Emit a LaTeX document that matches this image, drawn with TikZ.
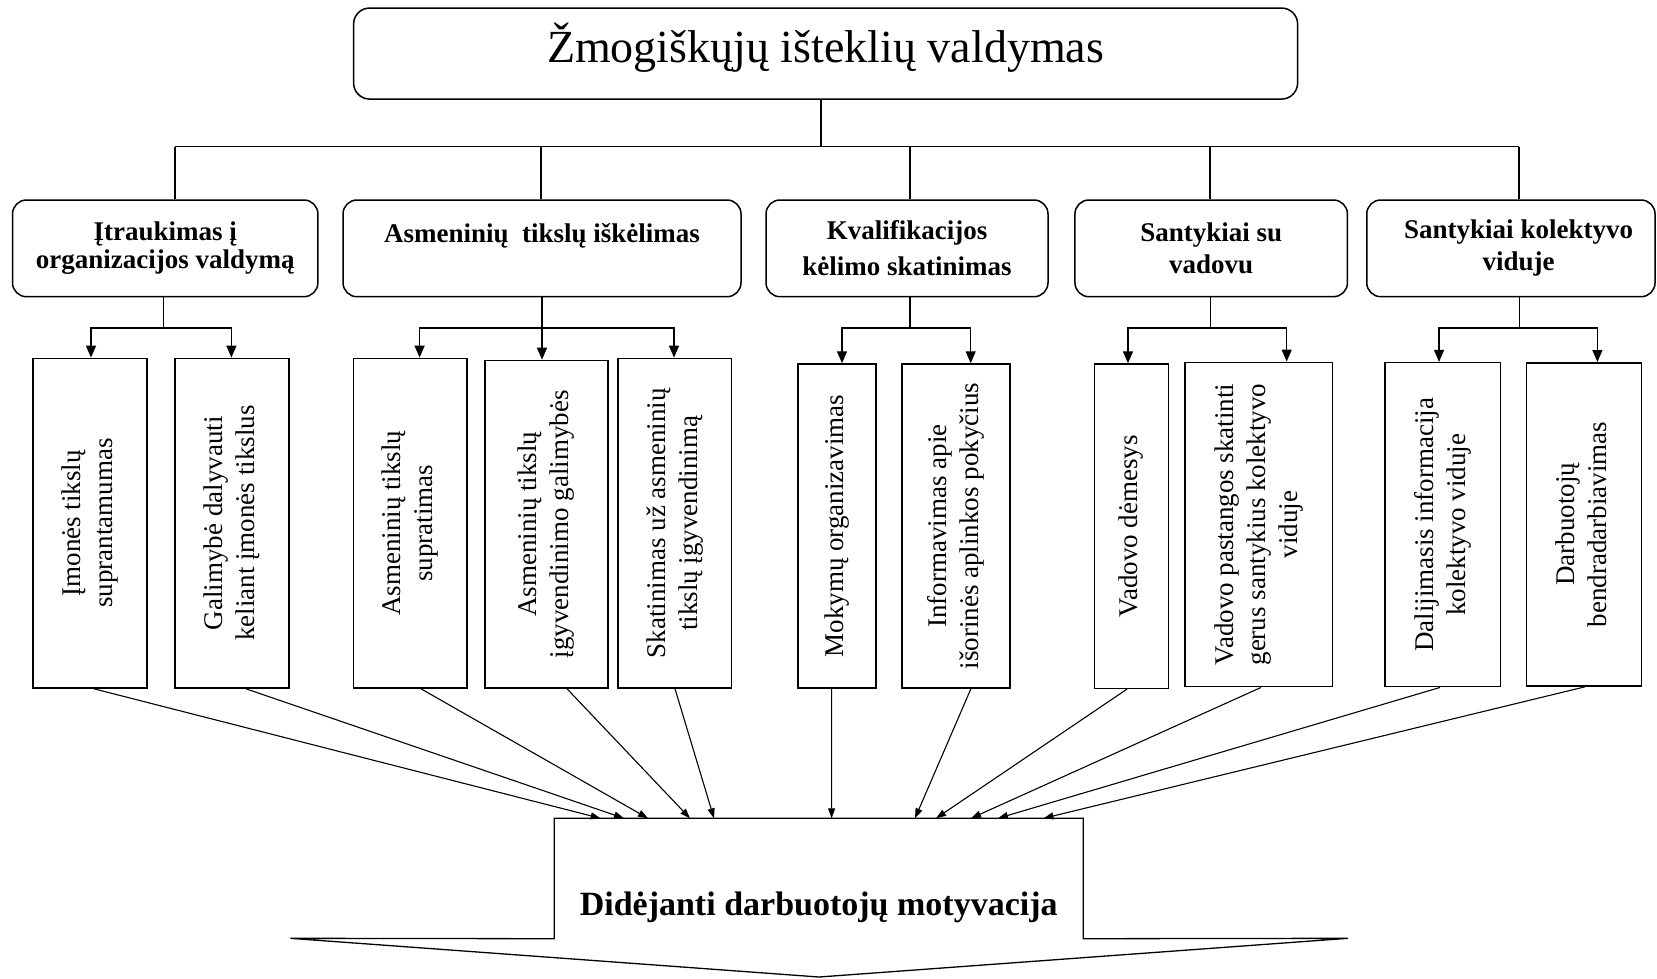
\documentclass[tikz,border=0pt]{standalone}
\usepackage{fontspec}
\setmainfont{Liberation Serif}
\usepackage{graphicx}
\usetikzlibrary{arrows.meta}
% rotated, centred multi-line text for the tall boxes
\newcommand{\sidetext}[1]{\rotatebox{90}{\begin{tabular}{@{}c@{}}#1\end{tabular}}}

\begin{document}
\begin{tikzpicture}[x=1pt,y=-1pt,
  boxline/.style={line width=1.5pt},
  topbox/.style={draw, boxline, rounded corners=16pt, inner sep=0pt},
  headbox/.style={draw, boxline, rounded corners=14pt, inner sep=0pt,
    minimum height=96.7pt, align=center, font=\fontsize{27}{31}\selectfont\bfseries},
  headtext/.style={inner sep=0pt, align=center, font=\fontsize{27}{31}\selectfont\bfseries},
  leafbox/.style={draw, boxline, inner sep=0pt, font=\fontsize{27}{32}\selectfont},
  link/.style={line width=1.3pt},
  downarrow/.style={link, -{Triangle[length=12pt,width=10pt]}},
  intoarrow/.style={line width=1.1pt, -{Triangle[length=10pt,width=7pt]}},
]
\useasboundingbox (0,0) rectangle (1657,978);

% ---- main heading ----
\node[topbox, minimum width=944pt, text height=54pt, text depth=37pt,
      font=\fontsize{46}{50}\selectfont, anchor=north] (title) at (825.6,7.3)
      {Žmogiškųjų išteklių valdymas};

% ---- second level ----
\node[headbox, minimum width=305.4pt, font=\fontsize{27}{28}\selectfont\bfseries] (h1) at (165.2,248.35)
      {Įtraukimas į\\organizacijos valdymą};
\node[headbox, minimum width=398pt] (h2) at (542,248.35)
      {Asmeninių\ \ tikslų iškėlimas\\\mbox{}};
\node[headbox, minimum width=282pt, font=\fontsize{27}{36}\selectfont\bfseries] (h3) at (907,248.35)
      {Kvalifikacijos\\kėlimo skatinimas};
\node[headbox, minimum width=272.5pt, font=\fontsize{27}{31.7}\selectfont\bfseries] (h4) at (1211.2,248.35)
      {Santykiai su\\vadovu};
\node[headbox, minimum width=288.3pt] (h5) at (1510.9,248.35) {};
\node[headtext, font=\fontsize{27}{31.7}\selectfont\bfseries] (h5t) at (1518.6,248.35)
      {Santykiai kolektyvo\\viduje};

% ---- bus from the heading ----
\coordinate (bus) at (821,146.7);
\coordinate (b1) at (175,146.7);
\coordinate (b2) at (541,146.7);
\coordinate (b3) at (910,146.7);
\coordinate (b4) at (1210,146.7);
\coordinate (b5) at (1519,146.7);
\draw[link] (title.south -| bus) -- (bus);
\draw[link] (b1) -- (b5);
\draw[link] (b1) -- (b1 |- h1.north);
\draw[link] (b2) -- (b2 |- h2.north);
\draw[link] (b3) -- (b3 |- h3.north);
\draw[link] (b4) -- (b4 |- h4.north);
\draw[link] (b5) -- (b5 |- h5.north);

% ---- third level ----
\node[leafbox, minimum width=114pt, minimum height=329.7pt] (c1) at (90,523.2)
      {\sidetext{Įmonės tikslų\\suprantamumas}};
\node[leafbox, minimum width=114pt, minimum height=329.7pt] (c2) at (232,523.2)
      {\sidetext{Galimybė dalyvauti\\keliant įmonės tikslus}};
\node[leafbox, minimum width=113.4pt, minimum height=329.7pt] (c3) at (410.3,523.2)
      {\sidetext{Asmeninių tikslų\\supratimas}};
\node[leafbox, minimum width=122.7pt, minimum height=327.6pt] (c4) at (546.4,524.2)
      {\sidetext{Asmeninių tikslų\\įgyvendinimo galimybės}};
\node[leafbox, minimum width=113.5pt, minimum height=329.7pt] (c5) at (674.6,523.2)
      {\sidetext{Skatinimas už asmeninių\\tikslų įgyvendinimą}};
\node[leafbox, minimum width=78pt, minimum height=324pt] (c6) at (837,526)
      {\sidetext{Mokymų organizavimas}};
\node[leafbox, minimum width=108.2pt, minimum height=324pt] (c7) at (955.9,526)
      {\sidetext{Informavimas apie\\išorinės aplinkos pokyčius}};
\node[leafbox, minimum width=74.2pt, minimum height=324.3pt] (c8) at (1131.4,526.2)
      {\sidetext{Vadovo dėmesys}};
\node[leafbox, minimum width=147.5pt, minimum height=324.4pt] (c9) at (1258.6,524.5)
      {\sidetext{Vadovo pastangos skatinti\\gerus santykius kolektyvo\\viduje}};
\node[leafbox, minimum width=115.7pt, minimum height=324pt] (c10) at (1442.7,524.7)
      {\sidetext{Dalijimasis informacija\\kolektyvo viduje}};
\node[leafbox, minimum width=114.7pt, minimum height=323.3pt] (c11) at (1583.9,524.4)
      {\sidetext{Darbuotojų\\bendradarbiavimas}};

% ---- branches from each group heading ----
\coordinate (g1) at (163.6,328);
\coordinate (g2) at (542,328);
\coordinate (g3) at (910,328);
\coordinate (g4) at (1210.4,328);
\coordinate (g5) at (1519.3,328);
\draw[link] (h1.south -| g1) -- (g1);
\draw[link] (h2.south -| g2) -- (g2);
\draw[link] (h3.south -| g3) -- (g3);
\draw[link] (h4.south -| g4) -- (g4);
\draw[link] (h5.south -| g5) -- (g5);

\draw[downarrow] (g1) -| ([xshift=1pt]c1.north);
\draw[downarrow] (g1) -| ([xshift=-0.6pt]c2.north);
\draw[downarrow] (g2) -| ([xshift=9.3pt]c3.north);
\draw[downarrow] (g2) -| ([xshift=-4.4pt]c4.north);
\draw[downarrow] (g2) -| ([xshift=-0.6pt]c5.north);
\draw[downarrow] (g3) -| ([xshift=5pt]c6.north);
\draw[downarrow] (g3) -| ([xshift=14.8pt]c7.north);
\draw[downarrow] (g4) -| ([xshift=-3.4pt]c8.north);
\draw[downarrow] (g4) -| ([xshift=28.1pt]c9.north);
\draw[downarrow] (g5) -| ([xshift=-3.7pt]c10.north);
\draw[downarrow] (g5) -| ([xshift=13.5pt]c11.north);

% ---- result block arrow ----
\node[inner sep=0pt, minimum width=528.6pt, text height=96.7pt, text depth=23.3pt,
      font=\fontsize{34}{40}\selectfont\bfseries, anchor=north] (goal) at (818.7,818.3)
      {Didėjanti darbuotojų motyvacija};
\coordinate (wingL) at (290.3,938.3);
\coordinate (wingR) at (1348,938.3);
\coordinate (tip) at (819,977);
\draw[link] (goal.south west) -- (goal.north west) -- (goal.north east) -- (goal.south east)
      -- (wingR) -- (tip) -- (wingL) -- cycle;

% ---- every factor feeds the result ----
\draw[intoarrow] ([xshift=4pt]c1.south)    -- ([xshift=-218.1pt]goal.north);
\draw[intoarrow] ([xshift=14pt]c2.south)   -- ([xshift=-194.7pt]goal.north);
\draw[intoarrow] ([xshift=10.7pt]c3.south) -- ([xshift=-170.7pt]goal.north);
\draw[intoarrow] ([xshift=20.6pt]c4.south) -- ([xshift=-128.7pt]goal.north);
\draw[intoarrow] ([xshift=0.4pt]c5.south)  -- ([xshift=-104.7pt]goal.north);
\draw[intoarrow] ([xshift=-5.4pt]c6.south) -- ([xshift=12.9pt]goal.north);
\draw[intoarrow] ([xshift=15pt]c7.south)   -- ([xshift=96.3pt]goal.north);
\draw[intoarrow] ([xshift=-4.4pt]c8.south) -- ([xshift=117.3pt]goal.north);
\draw[intoarrow] ([xshift=2.4pt]c9.south)  -- ([xshift=152.3pt]goal.north);
\draw[intoarrow] ([xshift=-2.7pt]c10.south) -- ([xshift=179.3pt]goal.north);
\draw[intoarrow] ([xshift=1.1pt]c11.south) -- ([xshift=224.8pt]goal.north);
\end{tikzpicture}
\end{document}
